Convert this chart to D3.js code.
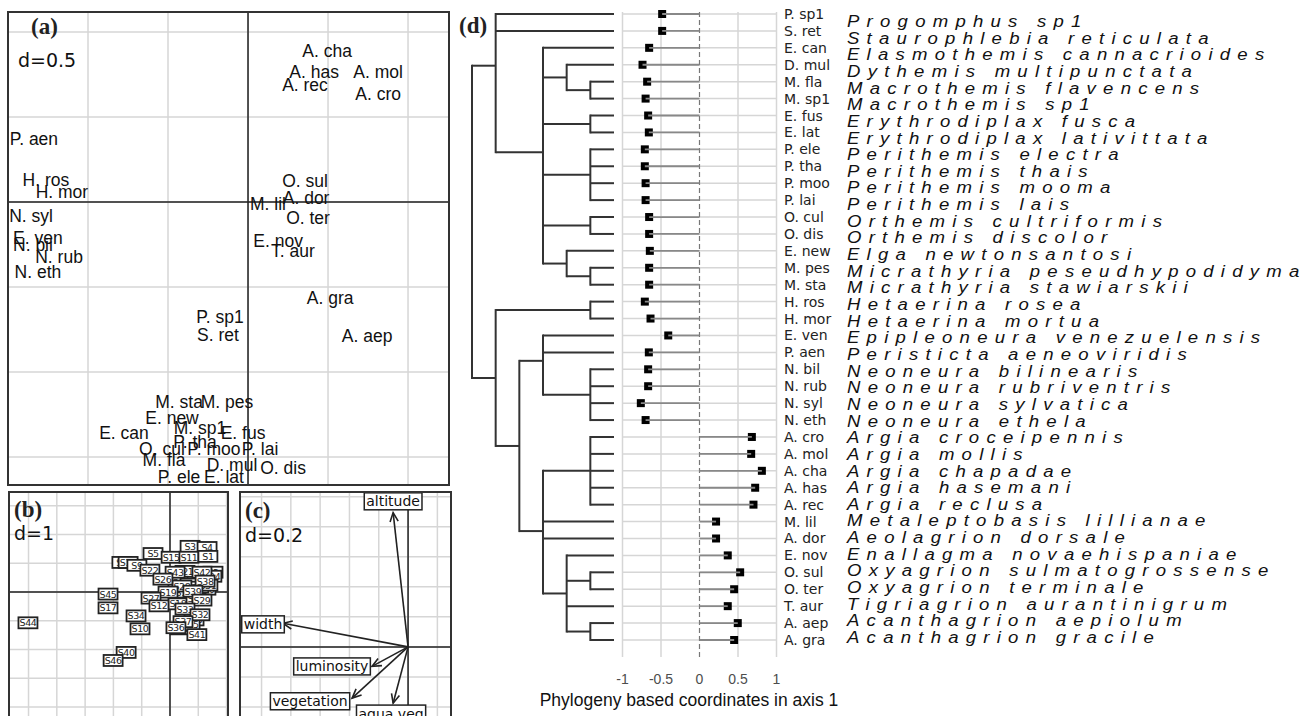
<!DOCTYPE html>
<html>
<head>
<meta charset="utf-8">
<script src="https://cdn.jsdelivr.net/npm/d3@7"></script>
<style>
  body { margin: 0; background: #fff; }
  svg { display: block; }
</style>
</head>
<body>
<div id="fig"></div>
<script>
// ---------- data: panel (a) species scores ----------
const sppCodes = ["A. cha","A. has","A. rec","A. mol","A. cro","P. aen","H. ros","H. mor","O. sul","A. dor","M. lil","O. ter",
  "N. syl","E. ven","N. bil","N. rub","N. eth","E. nov","T. aur","A. gra","P. sp1","S. ret","A. aep",
  "M. sta","M. pes","E. new","M. sp1","E. can","E. fus","P. tha","O. cul","P. moo","P. lai","M. fla","D. mul","O. dis","P. ele","E. lat"];
const sppX = [0.494,0.413,0.356,0.813,0.813,-1.338,-1.263,-1.163,0.356,0.363,0.125,0.375,
  -1.356,-1.313,-1.344,-1.181,-1.313,0.188,0.281,0.513,-0.175,-0.188,0.744,
  -0.431,-0.131,-0.475,-0.3,-0.775,-0.031,-0.331,-0.538,-0.213,0.075,-0.525,-0.1,0.219,-0.431,-0.15];
const sppY = [0.888,0.765,0.688,0.765,0.635,0.371,0.129,0.059,0.124,0.024,-0.01,-0.094,
  -0.082,-0.212,-0.253,-0.324,-0.412,-0.229,-0.288,-0.565,-0.676,-0.782,-0.788,
  -1.176,-1.176,-1.271,-1.329,-1.359,-1.359,-1.412,-1.453,-1.453,-1.453,-1.518,-1.547,-1.565,-1.618,-1.618];

// ---------- data: panel (b) site scores ----------
const siteNames = ["S21","S2","S6","S7","S14","S16","S18","S20","S23","S24","S25","S28","S30","S31","S35",
  "S8","S13","S44","S45","S17","S34","S10","S40","S46","S5","S3","S4","S15","S11","S1","S9","S22","S43","S42",
  "S26","S38","S19","S39","S29","S27","S12","S33","S32","S37","S36","S41"];
const siteX = [0.53,1.52,0.28,0.71,0.49,1.27,0.28,0.92,0.85,1.48,1.02,0.42,0.35,1.34,0.71,
  -1.70,-1.48,-5.02,-2.19,-2.19,-1.20,-1.06,-1.55,-2.01,-0.60,0.71,1.31,0.04,0.67,1.34,-1.17,-0.71,0.18,1.13,
  -0.25,1.24,-0.07,0.81,1.13,-0.67,-0.39,0.53,1.06,0.46,0.21,0.95];
const siteY = [0.72,0.69,0.34,0.28,0,0.10,-0.41,-0.24,-0.97,0.55,0.17,0.21,-1.28,0.24,-1.14,
  1.03,1.03,-1.07,-0.07,-0.55,-0.83,-1.28,-2.10,-2.38,1.34,1.59,1.55,1.21,1.21,1.24,0.93,0.76,0.69,0.69,
  0.45,0.38,0,0.03,-0.28,-0.21,-0.48,-0.59,-0.79,-1.03,-1.24,-1.48];

// ---------- data: panel (c) environmental arrows ----------
const envNames = ["altitude","width","luminosity","vegetation","aqua veg"];
const envX = [-0.102,-0.853,-0.246,-0.382,-0.102];
const envY = [0.894,0.157,-0.130,-0.341,-0.375];
const envLabX = [-0.102,-0.99,-0.519,-0.669,-0.116];
const envLabY = [0.969,0.15,-0.13,-0.362,-0.444];

// ---------- data: panel (d) phylogeny + axis-1 coordinates ----------
// internal node labels = node level in the cladogram
const treeNewick = "((P. sp1,S. ret,(E. can,(D. mul,(M. fla,M. sp1)1)2,(E. fus,E. lat)1,(P. ele,P. tha,P. moo,P. lai)1,(O. cul,O. dis)1,(E. new,(M. pes,M. sta)1)2)3)5,((H. ros,H. mor)1,((E. ven,P. aen,(N. bil,N. rub,N. syl,N. eth)1)3,((A. cro,A. mol,A. cha,A. has,A. rec)1,M. lil,A. dor,(E. nov,(O. sul,O. ter)1,T. aur,(A. aep,A. gra)1)2)3)4)5)6;";
const tipCodes = ["P. sp1","S. ret","E. can","D. mul","M. fla","M. sp1","E. fus","E. lat","P. ele","P. tha","P. moo","P. lai",
  "O. cul","O. dis","E. new","M. pes","M. sta","H. ros","H. mor","E. ven","P. aen","N. bil","N. rub","N. syl","N. eth",
  "A. cro","A. mol","A. cha","A. has","A. rec","M. lil","A. dor","E. nov","O. sul","O. ter","T. aur","A. aep","A. gra"];
const tipFull = ["Progomphus sp1","Staurophlebia reticulata","Elasmothemis cannacrioides","Dythemis multipunctata",
  "Macrothemis flavencens","Macrothemis sp1","Erythrodiplax fusca","Erythrodiplax lativittata","Perithemis electra",
  "Perithemis thais","Perithemis mooma","Perithemis lais","Orthemis cultriformis","Orthemis discolor","Elga newtonsantosi",
  "Micrathyria peseudhypodidyma","Micrathyria stawiarskii","Hetaerina rosea","Hetaerina mortua","Epipleoneura venezuelensis",
  "Peristicta aeneoviridis","Neoneura bilinearis","Neoneura rubriventris","Neoneura sylvatica","Neoneura ethela",
  "Argia croceipennis","Argia mollis","Argia chapadae","Argia hasemani","Argia reclusa","Metaleptobasis lillianae",
  "Aeolagrion dorsale","Enallagma novaehispaniae","Oxyagrion sulmatogrossense","Oxyagrion terminale",
  "Tigriagrion aurantinigrum","Acanthagrion aepiolum","Acanthagrion gracile"];
const axis1 = [-0.485,-0.485,-0.654,-0.74,-0.68,-0.70,-0.667,-0.658,-0.71,-0.71,-0.70,-0.70,
  -0.654,-0.654,-0.645,-0.654,-0.654,-0.71,-0.636,-0.406,-0.658,-0.667,-0.667,-0.762,-0.70,
  0.68,0.671,0.81,0.723,0.701,0.215,0.215,0.367,0.528,0.45,0.367,0.497,0.45];
const axisTicks = [-1,-0.5,0,0.5,1];
const axisTickLabels = ["-1","-0.5","0","0.5","1"];

// ---------- figure ----------
const W = 1315, H = 716;
const svg = d3.select("#fig").append("svg").attr("width", W).attr("height", H);
svg.append("rect").attr("width", W).attr("height", H).attr("fill", "#fff");
const defs = svg.append("defs");

const gridCol = "#d6d6d6", axCol = "#222", frameCol = "#333";

function panel(id, box, xs, ys, xstep, ystep) {
  defs.append("clipPath").attr("id", id)
    .append("rect").attr("x", box.x0).attr("y", box.y0)
    .attr("width", box.x1 - box.x0).attr("height", box.y1 - box.y0);
  const g = svg.append("g").attr("clip-path", `url(#${id})`);
  const [dx0, dx1] = xs.domain(), [dy0, dy1] = ys.domain();
  const gx = d3.range(Math.ceil(dx0 / xstep - 1e-6) * xstep, dx1 + 1e-6, xstep);
  const gy = d3.range(Math.ceil(dy0 / ystep - 1e-6) * ystep, dy1 + 1e-6, ystep);
  g.selectAll(".gx").data(gx).join("line")
    .attr("x1", d => xs(d)).attr("x2", d => xs(d)).attr("y1", box.y0).attr("y2", box.y1)
    .attr("stroke", gridCol).attr("stroke-width", 1.5);
  g.selectAll(".gy").data(gy).join("line")
    .attr("y1", d => ys(d)).attr("y2", d => ys(d)).attr("x1", box.x0).attr("x2", box.x1)
    .attr("stroke", gridCol).attr("stroke-width", 1.5);
  g.append("line").attr("x1", xs(0)).attr("x2", xs(0)).attr("y1", box.y0).attr("y2", box.y1)
    .attr("stroke", axCol).attr("stroke-width", 1.5);
  g.append("line").attr("y1", ys(0)).attr("y2", ys(0)).attr("x1", box.x0).attr("x2", box.x1)
    .attr("stroke", axCol).attr("stroke-width", 1.5);
  svg.append("rect").attr("x", box.x0).attr("y", box.y0)
    .attr("width", box.x1 - box.x0).attr("height", box.y1 - box.y0)
    .attr("fill", "none").attr("stroke", frameCol).attr("stroke-width", 2);
  return g;
}

function panelTag(txt, x, y) {
  svg.append("text").attr("x", x).attr("y", y).text(txt)
    .attr("font-family", "'Liberation Serif', serif").attr("font-weight", "bold")
    .attr("font-size", 23).attr("fill", "#222");
}
function scaleTag(txt, x, y) {
  svg.append("text").attr("x", x).attr("y", y).text(txt)
    .attr("font-family", "'DejaVu Sans', sans-serif").attr("font-size", 19).attr("fill", "#111");
}

// ---- (a)
const boxA = {x0: 8, y0: 12, x1: 449, y1: 485};
const xa = d3.scaleLinear().domain([-1.5, 1.256]).range([boxA.x0, boxA.x1]);
const ya = d3.scaleLinear().domain([-1.665, 1.118]).range([boxA.y1, boxA.y0]);
const ga = panel("clipA", boxA, xa, ya, 0.5, 0.5);
ga.selectAll(".spp").data(sppCodes).join("text")
  .attr("x", (d, i) => xa(sppX[i])).attr("y", (d, i) => ya(sppY[i]))
  .attr("text-anchor", "middle").attr("dominant-baseline", "central")
  .attr("font-family", "'Liberation Sans', Arial, sans-serif").attr("font-size", 17.5)
  .attr("fill", "#111").text(d => d);
panelTag("(a)", 31, 34);
scaleTag("d=0.5", 18, 67);

// ---- (b)
const boxB = {x0: 9, y0: 492, x1: 228, y1: 722};
const xb = d3.scaleLinear().domain([-5.69, 2.05]).range([boxB.x0, boxB.x1]);
const yb = d3.scaleLinear().domain([-4.52, 3.48]).range([boxB.y1, boxB.y0]);
const gb = panel("clipB", boxB, xb, yb, 1, 1);
const sites = gb.selectAll(".site").data(siteNames).join("g")
  .attr("transform", (d, i) => `translate(${xb(siteX[i])},${yb(siteY[i])})`);
sites.append("rect").attr("x", -9.5).attr("y", -5.5).attr("width", 19).attr("height", 11)
  .attr("fill", "#fff").attr("stroke", "#222").attr("stroke-width", 1.8);
sites.append("text").attr("text-anchor", "middle").attr("dominant-baseline", "central")
  .attr("font-family", "'DejaVu Sans', sans-serif").attr("font-size", 9.5).attr("fill", "#222")
  .attr("letter-spacing", -0.4).text(d => d);
panelTag("(b)", 14, 517);
scaleTag("d=1", 14, 540);

// ---- (c)
const boxC = {x0: 240, y0: 492, x1: 451, y1: 722};
const xc = d3.scaleLinear().domain([-1.147, 0.293]).range([boxC.x0, boxC.x1]);
const yc = d3.scaleLinear().domain([-0.5, 1.031]).range([boxC.y1, boxC.y0]);
const gc = panel("clipC", boxC, xc, yc, 0.2, 0.2);
envNames.forEach((name, i) => {
  const x0 = xc(0), y0 = yc(0), x1 = xc(envX[i]), y1 = yc(envY[i]);
  const a = Math.atan2(y1 - y0, x1 - x0), L = 10, sp = 0.42;
  gc.append("line").attr("x1", x0).attr("y1", y0).attr("x2", x1).attr("y2", y1)
    .attr("stroke", "#222").attr("stroke-width", 1.6);
  gc.append("path")
    .attr("d", `M${x1 - L * Math.cos(a - sp)},${y1 - L * Math.sin(a - sp)}L${x1},${y1}L${x1 - L * Math.cos(a + sp)},${y1 - L * Math.sin(a + sp)}`)
    .attr("fill", "none").attr("stroke", "#222").attr("stroke-width", 1.6);
});
const envLab = gc.selectAll(".env").data(envNames).join("g")
  .attr("transform", (d, i) => `translate(${xc(envLabX[i])},${yc(envLabY[i])})`);
envLab.append("text").attr("text-anchor", "middle").attr("dominant-baseline", "central")
  .attr("font-family", "'DejaVu Sans', sans-serif").attr("font-size", 14).attr("fill", "#111")
  .text(d => d);
envLab.each(function () {
  const g = d3.select(this), bb = g.select("text").node().getBBox();
  g.insert("rect", "text").attr("x", bb.x - 2).attr("y", bb.y - 0.5)
    .attr("width", bb.width + 4).attr("height", bb.height + 1)
    .attr("fill", "#fff").attr("stroke", "#222").attr("stroke-width", 1.5);
});
panelTag("(c)", 245, 518);
scaleTag("d=0.2", 245, 542);

// ---- (d) phylogeny
function parseNewick(s) {
  let i = 0;
  function node() {
    const n = {};
    if (s[i] === "(") {
      n.children = [];
      i++;
      n.children.push(node());
      while (s[i] === ",") { i++; n.children.push(node()); }
      i++;
    }
    const j = i;
    while (i < s.length && !",();".includes(s[i])) i++;
    n.name = s.slice(j, i);
    return n;
  }
  return node();
}
const root = d3.hierarchy(parseNewick(treeNewick));
const yRow = d3.scalePoint().domain(tipCodes).range([14, 640]);
const xTree = d3.scaleLinear().domain([6, 0]).range([472, 614]);
root.eachAfter(n => {
  n.px = xTree(n.children ? +n.data.name : 0);
  n.py = n.children ? d3.mean(n.children, c => c.py) : yRow(n.data.name);
});
const gt = svg.append("g").attr("stroke", "#333").attr("stroke-width", 2).attr("fill", "none");
root.descendants().filter(n => n.children).forEach(n => {
  gt.append("line").attr("x1", n.px).attr("x2", n.px)
    .attr("y1", d3.min(n.children, c => c.py) - 1).attr("y2", d3.max(n.children, c => c.py) + 1);
  n.children.forEach(c => {
    gt.append("line").attr("x1", n.px).attr("x2", c.px).attr("y1", c.py).attr("y2", c.py);
  });
});
panelTag("(d)", 459, 33);

// ---- (d) lollipop plot
const xd = d3.scaleLinear().domain([-1, 1]).range([622.5, 776.5]);
const dTop = 12, dBot = 657;
const gd = svg.append("g");
gd.selectAll(".hg").data(tipCodes).join("line")
  .attr("x1", xd(-1)).attr("x2", xd(1)).attr("y1", d => yRow(d)).attr("y2", d => yRow(d))
  .attr("stroke", gridCol).attr("stroke-width", 1.5);
gd.selectAll(".vg").data(axisTicks.filter(t => t !== 0)).join("line")
  .attr("x1", d => xd(d)).attr("x2", d => xd(d)).attr("y1", dTop).attr("y2", dBot)
  .attr("stroke", gridCol).attr("stroke-width", 1.5);
gd.append("line").attr("x1", xd(0)).attr("x2", xd(0)).attr("y1", dTop).attr("y2", dBot)
  .attr("stroke", "#777").attr("stroke-width", 1.2).attr("stroke-dasharray", "5,3");
gd.selectAll(".pt").data(tipCodes).join("rect")
  .attr("x", (d, i) => xd(axis1[i]) - 4).attr("y", d => yRow(d) - 4)
  .attr("width", 8).attr("height", 8).attr("fill", "#000");
gd.selectAll(".seg").data(tipCodes).join("line")
  .attr("x1", xd(0)).attr("x2", (d, i) => xd(axis1[i])).attr("y1", d => yRow(d)).attr("y2", d => yRow(d))
  .attr("stroke", "#888").attr("stroke-width", 1.8);
gd.selectAll(".tk").data(axisTicks).join("text")
  .attr("x", d => xd(d)).attr("y", 679).attr("text-anchor", "middle").attr("dominant-baseline", "central")
  .attr("font-family", "'Liberation Sans', Arial, sans-serif").attr("font-size", 14).attr("fill", "#4d4d4d")
  .text((d, i) => axisTickLabels[i]);
svg.append("text").attr("x", 689).attr("y", 700).attr("text-anchor", "middle").attr("dominant-baseline", "central")
  .attr("font-family", "'Liberation Sans', Arial, sans-serif").attr("font-size", 17.5).attr("fill", "#111")
  .text("Phylogeny based coordinates in axis 1");

// short codes
svg.selectAll(".code").data(tipCodes).join("text")
  .attr("x", 784).attr("y", d => yRow(d)).attr("dominant-baseline", "central")
  .attr("font-family", "'DejaVu Sans', sans-serif").attr("font-size", 14).attr("fill", "#222")
  .text(d => d);
// full italic names
const yFull = d3.scalePoint().domain(tipCodes).range([27, 643]);
svg.selectAll(".full").data(tipCodes).join("text")
  .attr("transform", d => `translate(847,${yFull(d)}) scale(1.08,1)`)
  .attr("font-family", "'Liberation Sans', Arial, sans-serif").attr("font-style", "italic")
  .attr("font-size", 17.2).attr("letter-spacing", 6.7).attr("fill", "#111")
  .text((d, i) => tipFull[i]);
</script>
</body>
</html>
